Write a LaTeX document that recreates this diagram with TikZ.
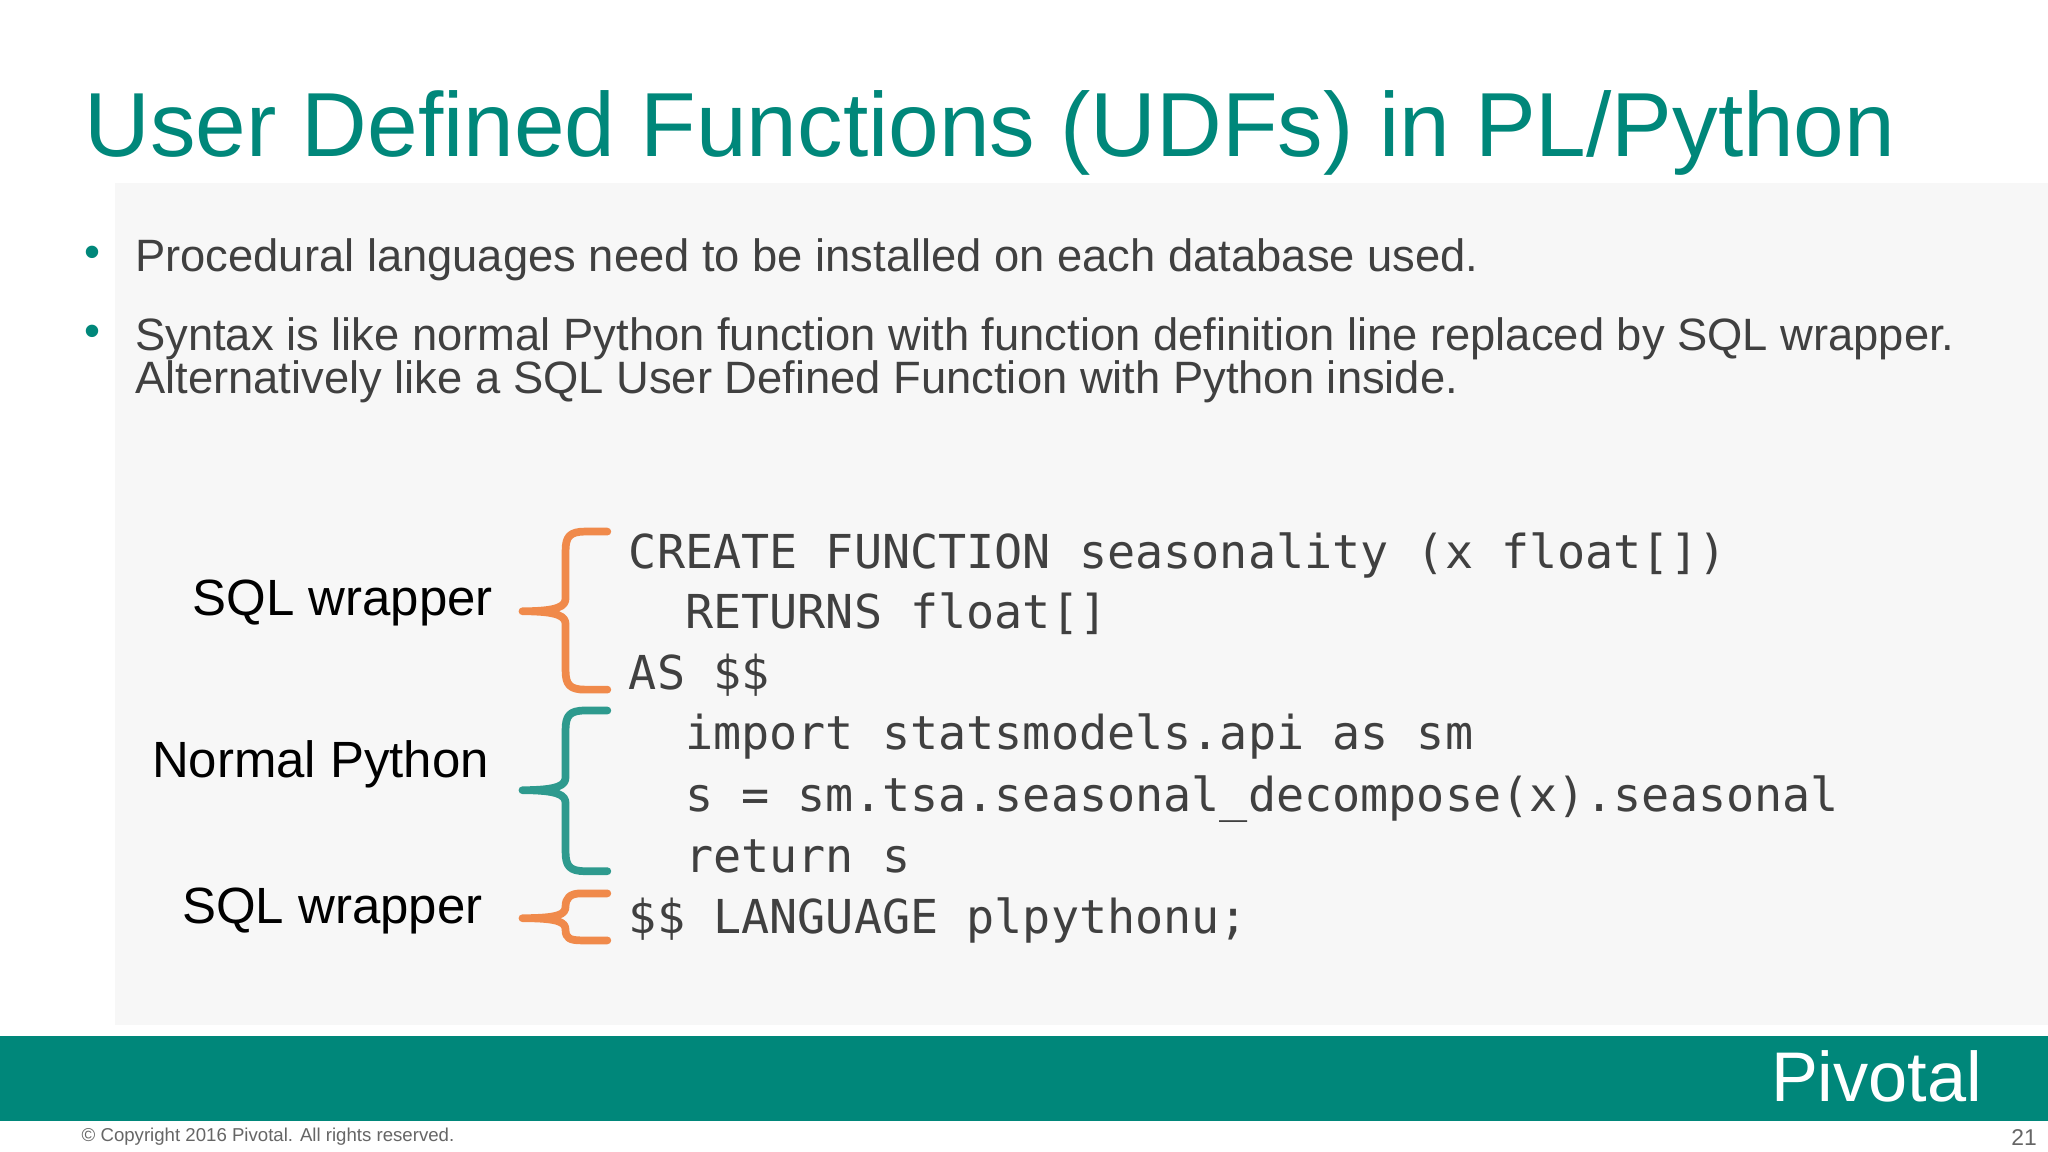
\documentclass[tikz,border=0pt]{standalone}
\usepackage{fontspec}
\setmainfont{Liberation Sans}
\setmonofont{DejaVu Sans Mono}
\definecolor{teal1}{HTML}{00877A}
\definecolor{orng}{HTML}{F08A4B}
\definecolor{tealb}{HTML}{2E9A8E}
\definecolor{txt}{HTML}{404040}
\tikzset{
 code/.style={anchor=base west,font=\ttfamily\fontsize{13.3}{15}\selectfont,text=txt,inner sep=0},
 lbl/.style={anchor=base east,font=\fontsize{14.5}{17}\selectfont,inner sep=0},
 bul/.style={anchor=base west,font=\fontsize{12.9}{15}\selectfont,text=txt,inner sep=0},
 br/.style={line width=2.2pt,line cap=round,line join=round}
}
\newcommand{\mybrace}[4]{%
 \draw[br,#4] (465,#1) -- (448,#1) .. controls (436,#1) and (433,#1+4) .. (433,#1+15)
  -- (433,#3-10) .. controls (433,#3-4) and (428,#3) .. (400,#3)
  .. controls (428,#3) and (433,#3+4) .. (433,#3+10) -- (433,#2-15)
  .. controls (433,#2-4) and (436,#2) .. (448,#2) -- (465,#2);}
\begin{document}
\begin{tikzpicture}[x=0.01306cm,y=-0.01306cm]
\useasboundingbox (0,0) rectangle (1568,882);
\fill[white] (0,0) rectangle (1568,882);
\fill[black!3] (88,140) rectangle (1568,785);
\node[anchor=base west,text=teal1,font=\fontsize{25.9}{30}\selectfont,inner sep=0] (title) at (64,120) {User Defined Functions (UDFs) in PL/Python};
\node[text=teal1,font=\fontsize{13}{16}\selectfont,inner sep=0] (b1) at (71,197) {•};
\node[bul] (t1) at (103,208) {Procedural languages need to be installed on each database used.};
\node[text=teal1,font=\fontsize{13}{16}\selectfont,inner sep=0] (b2) at (71,257) {•};
\node[bul] (t2) at (103,268) {Syntax is like normal Python function with function definition line replaced by SQL wrapper.};
\node[bul] (t3) at (103,301) {Alternatively like a SQL User Defined Function with Python inside.};
\node[code] (c1) at (481,435) {CREATE FUNCTION seasonality (x float[])};
\node[code] (c2) at (481,481) {\ \ RETURNS float[]};
\node[code] (c3) at (481,528) {AS \$\$};
\node[code] (c4) at (481,574) {\ \ import statsmodels.api as sm};
\node[code] (c5) at (481,621) {\ \ s = sm.tsa.seasonal\_decompose(x).seasonal};
\node[code] (c6) at (481,668) {\ \ return s};
\node[code] (c7) at (481,715) {\$\$ LANGUAGE plpythonu;};
\node[lbl] (l1) at (378,471) {SQL wrapper};
\node[lbl] (l2) at (375,595) {Normal Python};
\node[lbl] (l3) at (370,707) {SQL wrapper};
\mybrace{407}{528}{468}{orng}
\mybrace{544}{667}{605}{tealb}
\draw[br,orng] (465,684) -- (445,684) .. controls (436,684) and (433,688) .. (433,694) .. controls (433,700) and (428,703) .. (400,703) .. controls (428,703) and (433,706) .. (433,712) .. controls (433,718) and (436,720) .. (445,720) -- (465,720);
\fill[teal1] (0,793) rectangle (1568,858);
\node[anchor=base east,text=white,font=\fontsize{20}{24}\selectfont,inner sep=0] (logo) at (1518,843) {Pivotal};
\node[anchor=base west,text=black!60,font=\fontsize{5.3}{7}\selectfont,inner sep=0] (copy) at (62,874) {© Copyright 2016 Pivotal. All rights reserved.};
\node[anchor=base east,text=black!60,font=\fontsize{6.5}{8}\selectfont,inner sep=0] (pg) at (1560,877) {21};
\end{tikzpicture}
\end{document}
